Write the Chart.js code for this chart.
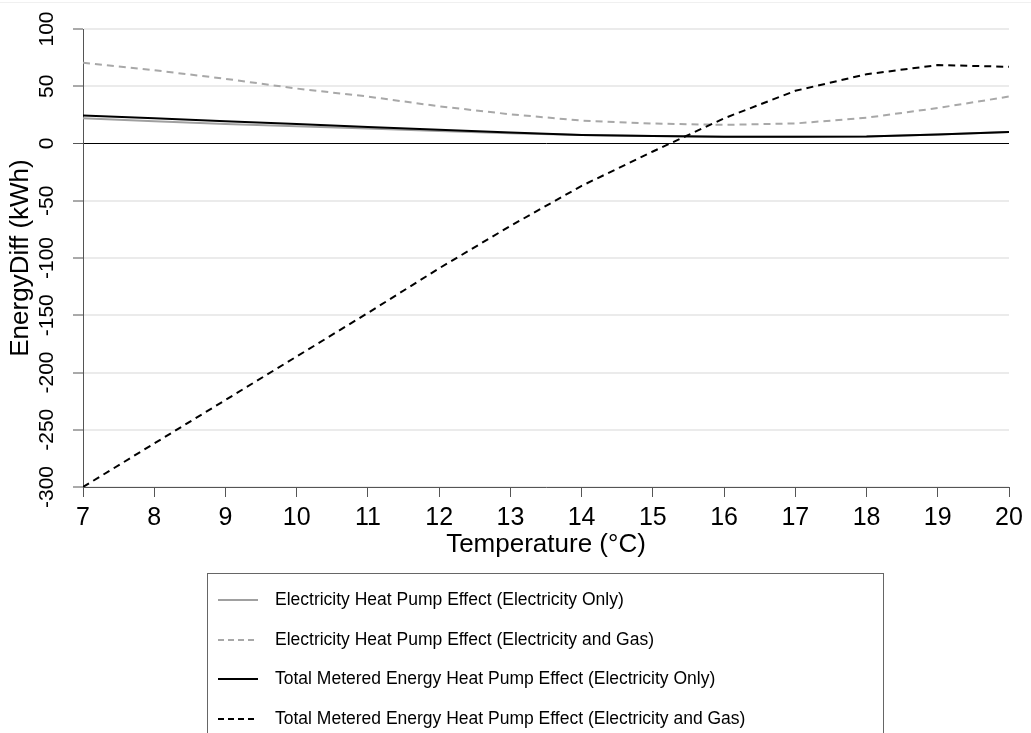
<!DOCTYPE html>
<html>
<head>
<meta charset="utf-8">
<script src="https://cdn.jsdelivr.net/npm/chart.js@4.4.0/dist/chart.umd.min.js"></script>
<style>
  html, body { margin: 0; padding: 0; background: #fff; }
  #wrap { position: relative; width: 1031px; height: 733px; overflow: hidden; }
  #chart { position: absolute; left: 0; top: 0; }
  #topline { position: absolute; left: 0; top: 2px; width: 1031px; height: 1px; background: #f0f0f0; }
  #legend {
    position: absolute; left: 207px; top: 573px; width: 675px; height: 200px;
    border: 1px solid #666; font-family: 'Liberation Sans', Arial, sans-serif;
    font-size: 17.5px; color: #000;
  }
  .row { position: absolute; left: 0; width: 670px; height: 20px; line-height: 20px; white-space: nowrap; }
  .row svg { position: absolute; left: 10px; top: 0; }
  .row span { position: absolute; left: 67px; top: 0; }
</style>
</head>
<body>
<div id="wrap">
  <canvas id="chart" width="1031" height="733"></canvas>
  <div id="topline"></div>
  <div id="legend"></div>
</div>
<script>
// temperature (°C)
const temps = [7, 8, 9, 10, 11, 12, 13, 14, 15, 16, 17, 18, 19, 20];

// energy difference (kWh)
const elecOnly   = [22, 19.5, 17, 15, 13, 11, 9, 7.5, 6.5, 6, 6, 6.2, 7.8, 10];
const elecGas    = [70.5, 64, 56.5, 48, 41, 32.5, 25.5, 20, 17.4, 16.3, 17.5, 22.5, 31, 41];
const totalOnly  = [24.5, 22, 19.5, 17, 14.5, 12, 9.5, 7.5, 6.5, 6, 6, 6.2, 7.8, 10];
const totalGas   = [-300, -262, -224, -186, -148, -109, -72, -37, -7, 22, 46, 60.5, 68.5, 67];

const seriesNames = [
    'Electricity Heat Pump Effect (Electricity Only)',
    'Electricity Heat Pump Effect (Electricity and Gas)',
    'Total Metered Energy Heat Pump Effect (Electricity Only)',
    'Total Metered Energy Heat Pump Effect (Electricity and Gas)'
];

const FONT = "'Liberation Sans', Arial, sans-serif";

function toPoints(values) {
    return temps.map((t, i) => ({ x: t, y: values[i] }));
}

const styles = [
    { color: '#a0a0a0', dash: [], legendDash: '', order: 2 },
    { color: '#a8a8a8', dash: [7, 5], legendDash: '6 4', order: 2 },
    { color: '#000000', dash: [], legendDash: '', order: 0 },
    { color: '#000000', dash: [7, 5], legendDash: '6 4', order: 0 }
];

const allSeries = [elecOnly, elecGas, totalOnly, totalGas];

const datasets = allSeries.map((vals, i) => ({
    label: seriesNames[i],
    data: toPoints(vals),
    borderColor: styles[i].color,
    borderDash: styles[i].dash,
    borderWidth: 2,
    pointRadius: 0,
    tension: 0,
    fill: false,
    order: styles[i].order
}));

new Chart(document.getElementById('chart'), {
    type: 'line',
    data: { datasets: datasets },
    options: {
        responsive: false,
        animation: false,
        devicePixelRatio: 1,
        layout: { padding: { top: 29, right: 22, bottom: 166, left: 0 } },
        plugins: { legend: { display: false }, tooltip: { enabled: false } },
        scales: {
            x: {
                type: 'linear',
                min: 7,
                max: 20,
                ticks: { stepSize: 1, color: '#000', padding: 6, font: { family: FONT, size: 25 } },
                grid: { drawOnChartArea: false, tickLength: 10, tickColor: '#555', tickWidth: 1 },
                border: { color: '#555', width: 1 },
                title: {
                    display: true, text: 'Temperature (°C)', color: '#000',
                    font: { family: FONT, size: 26 }, padding: { top: 0, bottom: 7 }
                },
                afterFit: function(scale) { scale.height = 80; }
            },
            y: {
                min: -300,
                max: 100,
                ticks: {
                    stepSize: 50, color: '#000', padding: 5,
                    minRotation: 90, maxRotation: 90, crossAlign: 'center',
                    font: { family: FONT, size: 21 }
                },
                grid: {
                    color: c => (c.tick && c.tick.value === 0) ? '#000' : '#ebebeb',
                    lineWidth: c => (c.tick && c.tick.value === 0) ? 1 : 2,
                    tickLength: 10, tickColor: '#555', tickWidth: 1
                },
                border: { color: '#555', width: 1 },
                title: {
                    display: true, text: 'EnergyDiff (kWh)', color: '#000',
                    font: { family: FONT, size: 26 }, padding: { top: 5, bottom: 0 }
                },
                afterFit: function(scale) { scale.width = 83; }
            }
        }
    }
});

// legend below the chart
const legend = document.getElementById('legend');
legend.innerHTML = seriesNames.map((name, i) => {
    const top = 15 + i * 39.5;
    const st = styles[i];
    return `
        <div class="row" style="top:${top}px">
            <svg width="42" height="20"><line x1="0" y1="11" x2="40" y2="11" stroke="${st.color}" stroke-width="2" stroke-dasharray="${st.legendDash}"/></svg>
            <span>${name}</span>
        </div>`;
}).join('');
</script>
</body>
</html>
